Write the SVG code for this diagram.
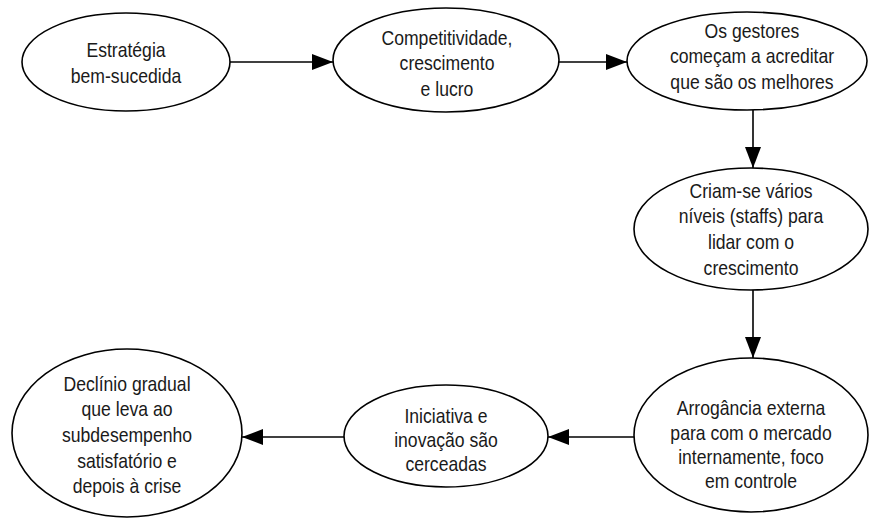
<svg xmlns="http://www.w3.org/2000/svg" width="870" height="518" viewBox="0 0 870 518">
<style>
  .n ellipse { fill: #ffffff; stroke: #000000; stroke-width: 1.6; }
  .n text { font-family: "Liberation Sans", Arial, sans-serif; font-size: 20px; fill: #1a1a1a; text-anchor: middle; }
  #edges line { stroke: #000000; stroke-width: 1.6; marker-end: url(#arr); }
</style>
<defs>
  <marker id="arr" markerUnits="userSpaceOnUse" markerWidth="21" markerHeight="16" refX="21" refY="8" orient="auto">
    <path d="M0,0 L21,8 L0,16 z" fill="#000000"/>
  </marker>
</defs>
<rect width="870" height="518" fill="#ffffff"/>
<g id="edges">
  <line x1="230" y1="62" x2="333" y2="62"/>
  <line x1="558" y1="62" x2="627" y2="62"/>
  <line x1="753" y1="110" x2="753" y2="168"/>
  <line x1="753" y1="290" x2="753" y2="358"/>
  <line x1="634" y1="437" x2="548" y2="437"/>
  <line x1="345" y1="437" x2="242" y2="437"/>
</g>
<g id="n1" class="n">
  <ellipse cx="126" cy="62" rx="104" ry="49"/>
  <g transform="translate(126 0) scale(0.88 1)">
    <text x="0" y="57">Estratégia</text>
    <text x="0" y="83">bem-sucedida</text>
  </g>
</g>
<g id="n2" class="n">
  <ellipse cx="446" cy="60" rx="113" ry="52"/>
  <g transform="translate(447 0) scale(0.88 1)">
    <text x="0" y="45">Competitividade,</text>
    <text x="0" y="70">crescimento</text>
    <text x="0" y="96">e lucro</text>
  </g>
</g>
<g id="n3" class="n">
  <ellipse cx="747" cy="61" rx="120" ry="49"/>
  <g transform="translate(752 0) scale(0.88 1)">
    <text x="0" y="38">Os gestores</text>
    <text x="0" y="63">começam a acreditar</text>
    <text x="0" y="89">que são os melhores</text>
  </g>
</g>
<g id="n4" class="n">
  <ellipse cx="751" cy="229" rx="117" ry="61"/>
  <g transform="translate(751 0) scale(0.88 1)">
    <text x="0" y="198">Criam-se vários</text>
    <text x="0" y="223">níveis (staffs) para</text>
    <text x="0" y="249">lidar com o</text>
    <text x="0" y="275">crescimento</text>
  </g>
</g>
<g id="n5" class="n">
  <ellipse cx="751" cy="435" rx="117" ry="77"/>
  <g transform="translate(751 0) scale(0.88 1)">
    <text x="0" y="415">Arrogância externa</text>
    <text x="0" y="440">para com o mercado</text>
    <text x="0" y="464">internamente, foco</text>
    <text x="0" y="488">em controle</text>
  </g>
</g>
<g id="n6" class="n">
  <ellipse cx="446" cy="436" rx="102" ry="51"/>
  <g transform="translate(446 0) scale(0.88 1)">
    <text x="0" y="423">Iniciativa e</text>
    <text x="0" y="447">inovação são</text>
    <text x="0" y="471">cerceadas</text>
  </g>
</g>
<g id="n7" class="n">
  <ellipse cx="127" cy="433" rx="115" ry="84"/>
  <g transform="translate(127 0) scale(0.88 1)">
    <text x="0" y="391">Declínio gradual</text>
    <text x="0" y="416">que leva ao</text>
    <text x="0" y="442">subdesempenho</text>
    <text x="0" y="468">satisfatório e</text>
    <text x="0" y="493">depois à crise</text>
  </g>
</g>
</svg>
